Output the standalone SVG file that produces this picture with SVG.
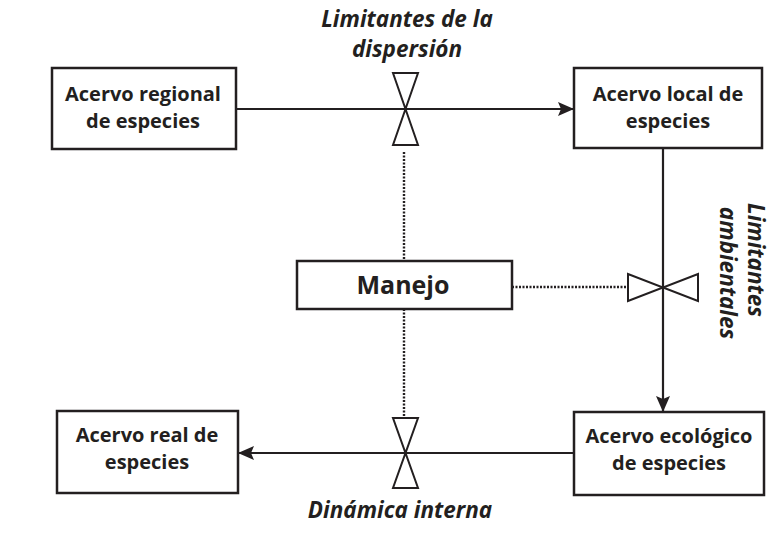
<svg xmlns="http://www.w3.org/2000/svg" width="773" height="554" viewBox="0 0 773 554">
<defs>
<style>
.box{fill:#fff;stroke:#231f20;stroke-width:2.5}
.t{font-family:"Open Sans","Liberation Sans",sans-serif;font-weight:bold;font-size:20px;fill:#231f20;text-anchor:middle}
.lbl{font-family:"Open Sans","Liberation Sans",sans-serif;font-weight:bold;font-style:italic;font-size:22.5px;fill:#231f20;text-anchor:middle}
.ln{stroke:#231f20;stroke-width:2.2;fill:none}
.dot{stroke:#231f20;stroke-width:2.4;fill:none;stroke-dasharray:2 1.5}
.valve{fill:#fff;stroke:#231f20;stroke-width:2}
</style>
<marker id="ah" viewBox="0 0 16 14" refX="16" refY="7" markerWidth="16" markerHeight="14" markerUnits="userSpaceOnUse" orient="auto">
<path d="M0,0 L16,7 L0,14 L3,7 Z" fill="#231f20"/>
</marker>
</defs>
<rect width="773" height="554" fill="#fff"/>
<g id="connectors">
<line class="ln" x1="236" y1="109" x2="574" y2="109" marker-end="url(#ah)"/>
<line class="ln" x1="663" y1="148" x2="663" y2="412" marker-end="url(#ah)"/>
<line class="ln" x1="574" y1="453" x2="238" y2="453" marker-end="url(#ah)"/>
<line class="dot" x1="404" y1="152" x2="404" y2="261"/>
<line class="dot" x1="404" y1="309" x2="404" y2="418"/>
<line class="dot" x1="512" y1="287" x2="628" y2="287"/>
</g>
<g id="valve-dispersion">
<path class="valve" d="M393,73 L418,73 L405.5,109 Z M393,145 L418,145 L405.5,109 Z"/>
</g>
<g id="valve-ambientales">
<path class="valve" d="M628,274 L628,301 L663,287.5 Z M698,274 L698,301 L663,287.5 Z"/>
</g>
<g id="valve-dinamica">
<path class="valve" d="M393,418 L418,418 L405.5,453 Z M393,488 L418,488 L405.5,453 Z"/>
</g>
<g id="regional">
<rect class="box" x="52" y="68" width="184" height="81"/>
<text class="t" x="143" y="101">Acervo regional</text>
<text class="t" x="143" y="128">de especies</text>
</g>
<g id="local">
<rect class="box" x="574" y="68" width="188" height="80"/>
<text class="t" x="668" y="101">Acervo local de</text>
<text class="t" x="668" y="128">especies</text>
</g>
<g id="manejo">
<rect class="box" x="297" y="261" width="215" height="48"/>
<text class="t" x="403" y="294" style="font-size:25px">Manejo</text>
</g>
<g id="ecologico">
<rect class="box" x="574" y="412" width="190" height="83"/>
<text class="t" x="669" y="443">Acervo ecológico</text>
<text class="t" x="669" y="470">de especies</text>
</g>
<g id="real">
<rect class="box" x="57" y="411" width="181" height="82"/>
<text class="t" x="147" y="442">Acervo real de</text>
<text class="t" x="147" y="469">especies</text>
</g>
<g id="labels">
<text class="lbl" x="407" y="27">Limitantes de la</text>
<text class="lbl" x="407" y="57">dispersión</text>
<text class="lbl" x="400" y="518">Dinámica interna</text>
<text class="lbl" x="748" y="260" transform="rotate(90 748 260)">Limitantes</text>
<text class="lbl" x="720" y="273" transform="rotate(90 720 273)">ambientales</text>
</g>
</svg>
